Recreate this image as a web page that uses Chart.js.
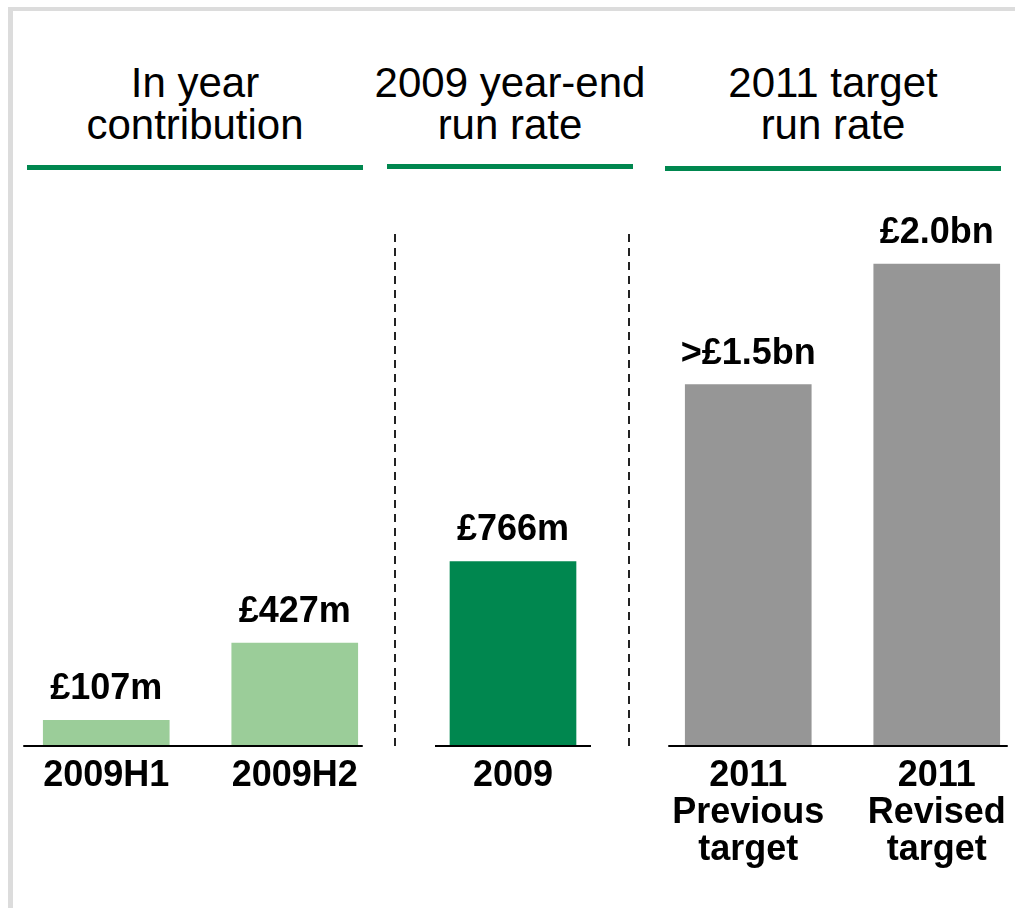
<!DOCTYPE html>
<html>
<head>
<meta charset="utf-8">
<script src="https://cdn.jsdelivr.net/npm/chart.js@4.4.1/dist/chart.umd.min.js"></script>
<style>
html, body { margin: 0; padding: 0; width: 1015px; height: 908px; overflow: hidden; background: #fff; font-family: "Liberation Sans", Arial, sans-serif; }
#frameTop { position: absolute; left: 8px; top: 7px; width: 1007px; height: 4px; background: #dcdcdc; }
#frameLeft { position: absolute; left: 8px; top: 7px; width: 5px; height: 901px; background: #dcdcdc; }
.head { position: absolute; top: 62px; font-size: 42px; line-height: 42px; text-align: center; color: #000; white-space: nowrap; }
.rule { position: absolute; height: 5px; background: #00874f; }
.sep { position: absolute; top: 234px; height: 512px; width: 2px;
  background: repeating-linear-gradient(to bottom, #222 0 8px, transparent 8px 14px); }
canvas { position: absolute; top: 180px; }
</style>
</head>
<body>
<div id="frameTop"></div>
<div id="frameLeft"></div>

<div class="head" style="left:27px;width:336px;">In year<br>contribution</div>
<div class="head" style="left:347px;width:326px;">2009 year-end<br>run rate</div>
<div class="head" style="left:665px;width:336px;">2011 target<br>run rate</div>
<div class="rule" style="left:27px;width:336px;top:165px;"></div>
<div class="rule" style="left:387px;width:246px;top:164px;"></div>
<div class="rule" style="left:665px;width:336px;top:166px;"></div>

<div class="sep" style="left:394px;"></div>
<div class="sep" style="left:628px;"></div>

<canvas id="p1"></canvas>
<canvas id="p2"></canvas>
<canvas id="p3"></canvas>

<script>
// cost savings, £m
const categories = ['2009H1', '2009H2', '2009', ['2011', 'Previous', 'target'], ['2011', 'Revised', 'target']];
const savings = [107, 427, 766, 1500, 2000];
const valueLabels = ['£107m', '£427m', '£766m', '>£1.5bn', '£2.0bn'];
const barColors = ['#9bcd99', '#9bcd99', '#00874f', '#969696', '#969696'];
const panelOf = [0, 0, 1, 2, 2];

const FONT = '"Liberation Sans", Arial, sans-serif';
const CANVAS_H = 728;

// canvas placement + how far the baseline runs past the outer bars
const panels = [
    { id: 'p1', left: 12, width: 377, lineL: 20, lineR: 5 },
    { id: 'p2', left: 419, width: 188, lineL: 15, lineR: 15 },
    { id: 'p3', left: 654, width: 377, lineL: 17, lineR: 8 }
];

const decorate = {
    id: 'decorate',
    afterDatasetsDraw(chart, args, opts) {
        const ctx = chart.ctx;
        const bars = chart.getDatasetMeta(0).data;
        const y0 = chart.scales.y.getPixelForValue(0);
        const first = bars[0], last = bars[bars.length - 1];
        ctx.save();
        ctx.strokeStyle = '#000';
        ctx.lineWidth = 2;
        ctx.beginPath();
        ctx.moveTo(first.x - first.width / 2 - opts.lineL, y0);
        ctx.lineTo(last.x + last.width / 2 + opts.lineR, y0);
        ctx.stroke();
        ctx.fillStyle = '#000';
        ctx.font = 'bold 36px ' + FONT;
        ctx.textAlign = 'center';
        ctx.textBaseline = 'alphabetic';
        bars.forEach((b, i) => {
            ctx.fillText(opts.labels[i], b.x, b.y - 21);
        });
        ctx.restore();
    }
};

panels.forEach((p, pi) => {
    const idx = panelOf.map((v, i) => v === pi ? i : -1).filter(i => i >= 0);
    const canvas = document.getElementById(p.id);
    canvas.width = p.width;
    canvas.height = CANVAS_H;
    canvas.style.left = p.left + 'px';
    canvas.style.width = p.width + 'px';
    canvas.style.height = CANVAS_H + 'px';
    new Chart(canvas.getContext('2d'), {
        type: 'bar',
        data: {
            labels: idx.map(i => categories[i]),
            datasets: [{
                data: idx.map(i => savings[i]),
                backgroundColor: idx.map(i => barColors[i]),
                barThickness: 126,
                borderWidth: 0
            }]
        },
        options: {
            responsive: false,
            animation: false,
            devicePixelRatio: 1,
            layout: { padding: { top: 36, bottom: 0, left: 0, right: 0 } },
            plugins: {
                legend: { display: false },
                tooltip: { enabled: false },
                decorate: { labels: idx.map(i => valueLabels[i]), lineL: p.lineL, lineR: p.lineR }
            },
            scales: {
                x: {
                    grid: { display: false, drawTicks: false },
                    border: { display: false },
                    ticks: {
                        color: '#000',
                        padding: 12,
                        autoSkip: false,
                        maxRotation: 0,
                        font: { family: FONT, size: 36, weight: 'bold', lineHeight: 1.02 }
                    },
                    afterFit: scale => { scale.height = 162; }
                },
                y: {
                    display: false,
                    min: 0,
                    max: 2200
                }
            }
        },
        plugins: [decorate]
    });
});
</script>
</body>
</html>
